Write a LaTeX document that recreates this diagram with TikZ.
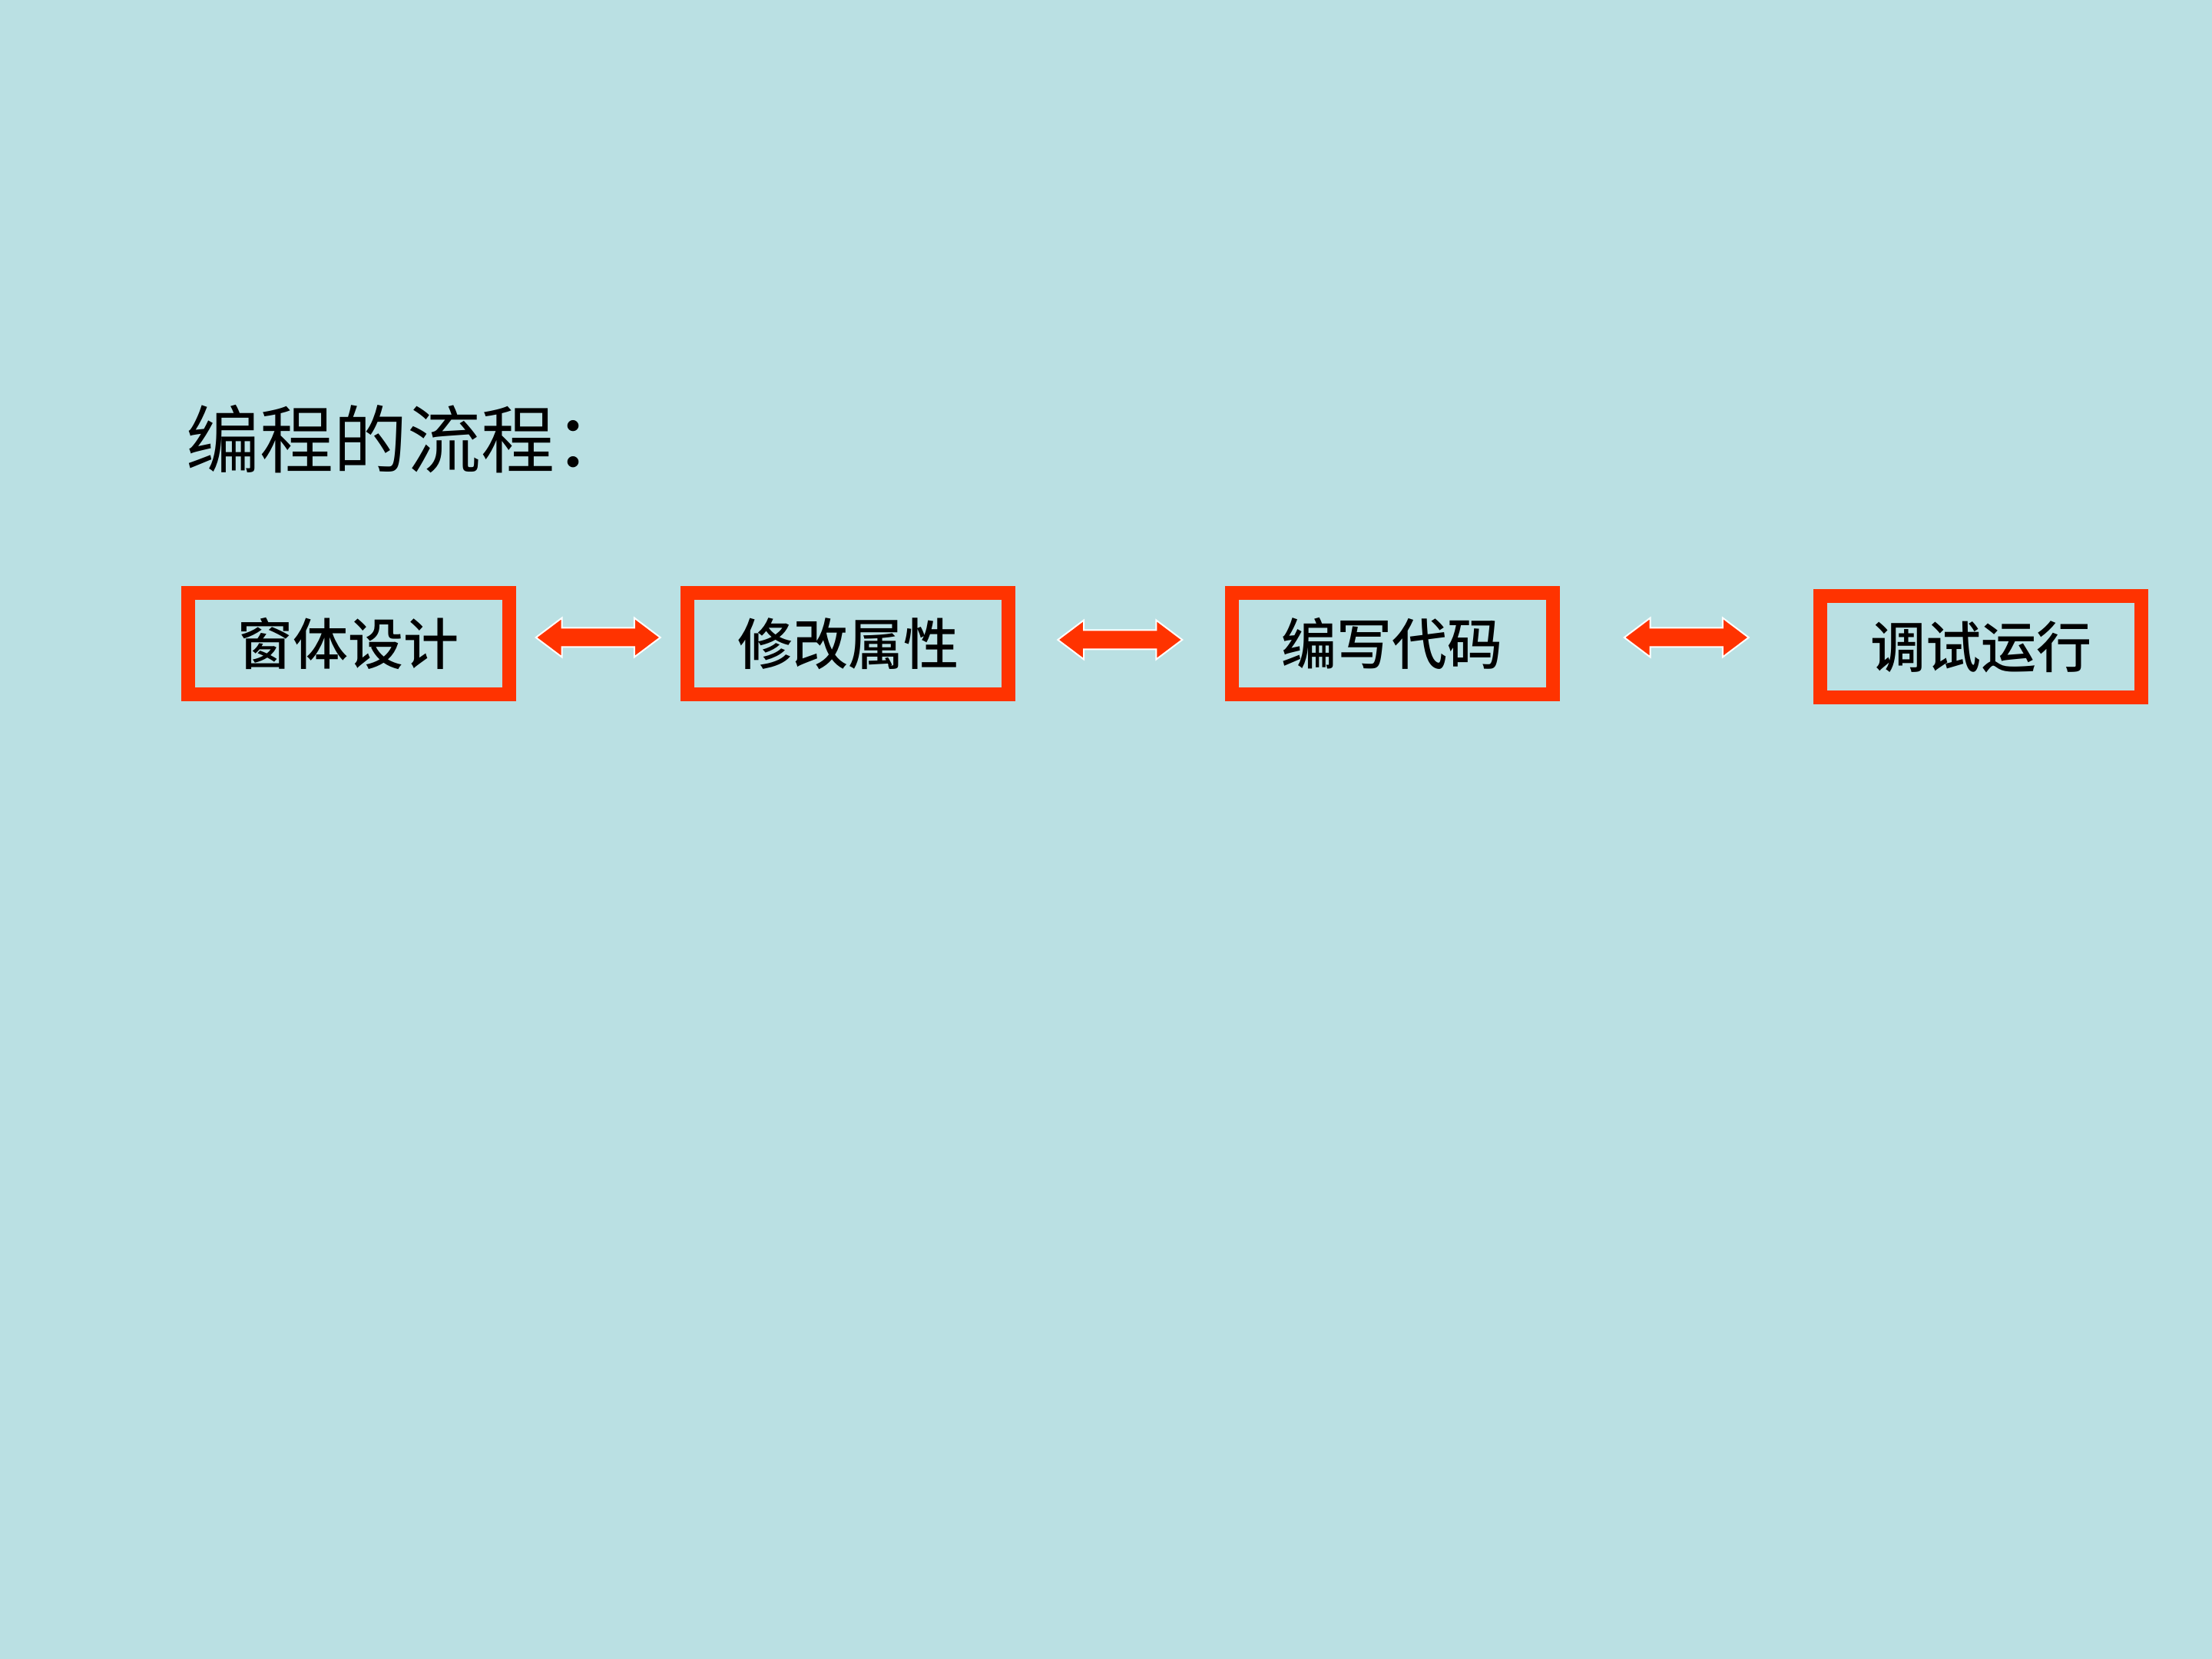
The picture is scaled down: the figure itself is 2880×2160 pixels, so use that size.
\documentclass[tikz,border=0pt]{standalone}
\usepackage{fontspec}
\newfontfamily\cjk{Noto Sans CJK SC}
\newfontfamily\cjkmed{Noto Sans CJK SC Medium}
\usetikzlibrary{shapes.arrows}
\definecolor{bgcol}{RGB}{186,224,227}
\definecolor{boxred}{RGB}{255,51,0}
\begin{document}
\begin{tikzpicture}[x=0.25pt,y=-0.25pt,
  stepbox/.style={draw=boxred, line width=4.5pt, minimum width=104.5pt, minimum height=33pt, inner sep=0pt, font=\cjkmed\fontsize{18pt}{18pt}\selectfont, text=black},
  dblarrow/.style={double arrow, fill=boxred, draw=white, line width=0.5pt, minimum width=12.25pt, minimum height=40.5pt, double arrow head extend=3.25pt, double arrow tip angle=74, inner xsep=0pt, inner ysep=2.875pt}]
\fill[bgcol] (0,0) rectangle (2880,2160);
\useasboundingbox (0,0) rectangle (2880,2160);
\node[anchor=west, inner sep=0pt, font=\cjk\fontsize{24pt}{24pt}\selectfont, text=black] (title) at (242,572) {编程的流程：};
\node[stepbox] (b1) at (453.5,838) {窗体设计};
\node[stepbox] (b2) at (1104,838) {修改属性};
\node[stepbox] (b3) at (1812.5,838) {编写代码};
\node[stepbox] (b4) at (2579,842) {调试运行};
\path (b1) -- (b2) node[dblarrow, midway, yshift=2pt] (a1) {};
\path (b2) -- (b3) node[dblarrow, midway, yshift=1.25pt] (a2) {};
\path (b3) -- (b4) node[dblarrow, midway, yshift=2.5pt] (a3) {};
\end{tikzpicture}
\end{document}
